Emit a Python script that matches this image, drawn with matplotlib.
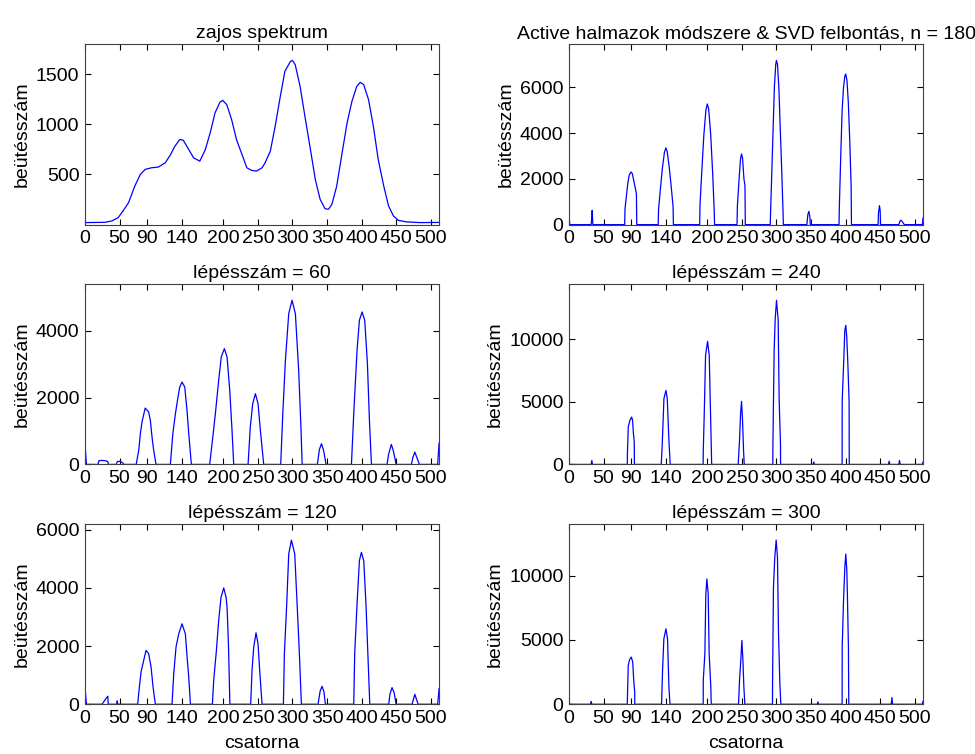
import matplotlib
matplotlib.use('Agg')

import matplotlib.pyplot as plt

plt.rcParams['font.family'] = ['Liberation Sans', 'DejaVu Sans']
plt.rcParams['font.size'] = 14

# csatorna (x) és beütésszám (y) töréspontok az egyes spektrumokhoz
x_zajos = [0, 29, 39, 48, 55, 63, 72, 80, 87, 96, 106, 116, 123, 130, 137, 142,
           150, 157, 166, 174, 181, 188, 195, 199, 205, 212, 219, 227, 234, 241,
           248, 256, 260, 268, 275, 282, 289, 297, 300, 304, 311, 318, 326, 333,
           340, 347, 352, 357, 364, 371, 379, 386, 393, 398, 403, 410, 417, 424,
           432, 439, 446, 453, 465, 485, 512]
y_zajos = [20, 23, 37, 70, 136, 219, 384, 500, 550, 566, 573, 616, 689, 781, 848, 841,
           748, 665, 632, 748, 914, 1112, 1218, 1238, 1195, 1046, 848, 699, 566, 540,
           533, 566, 610, 732, 980, 1261, 1526, 1625, 1635, 1592, 1377, 1079, 748, 450,
           252, 159, 152, 202, 384, 682, 1013, 1228, 1377, 1417, 1394, 1245, 980, 649,
           384, 186, 86, 43, 27, 20, 22]

x_n180 = [0, 1, 32, 33, 33.5, 34.5,
          80.5, 81, 83, 85, 87, 89.5, 91.5, 93.5, 95.5, 97.5, 98,
          129, 129.5, 132, 135, 138, 140, 142, 145, 148, 150.5, 151,
          189, 189.5, 192, 195, 198, 200, 202, 205, 208, 210, 210.5,
          243, 243.5, 246, 248, 249.5, 251, 253, 254.5, 255,
          291, 291.5, 293, 295, 297, 299, 300, 301.5, 303.5, 305.5, 307.5, 309.5, 310,
          344, 345.5, 347, 348.5, 349,
          390.5, 391, 393, 395, 397, 399, 400.3, 402, 404, 406, 408, 408.5,
          447, 447.5, 449, 450, 450.5,
          477, 478.5, 480, 482, 484, 485,
          511, 512]
y_n180 = [440, 0, 0, 300, 620, 0,
          0, 680, 1250, 1800, 2150, 2300, 2230, 1950, 1650, 1350, 0,
          0, 650, 1500, 2450, 3150, 3350, 3200, 2500, 1600, 800, 0,
          0, 900, 2300, 3900, 5000, 5270, 5050, 3900, 2100, 600, 0,
          0, 800, 2000, 2850, 3085, 2900, 2000, 1700, 0,
          0, 500, 2000, 4000, 6000, 7000, 7170, 7000, 6000, 4200, 2500, 600, 0,
          0, 450, 580, 300, 0,
          0, 800, 3000, 5000, 6000, 6500, 6575, 6300, 5300, 3700, 1700, 0,
          0, 500, 830, 600, 0,
          0, 150, 190, 130, 40, 0,
          0, 290]

x_lep60 = [0, 2, 18.8, 20, 24, 30, 33, 34, 45, 47, 51, 55, 56,
           74, 77.7, 80, 82.4, 87, 92, 94.5, 96.9, 99.3, 102.7,
           123.4, 127, 130.7, 134.5, 137, 140.3, 144.2, 147.5, 150, 153.8,
           180.3, 183.7, 188.5, 193.3, 197, 201.5, 205.4, 209.3, 212.6, 215,
           235.8, 239, 242.5, 246.4, 250.2, 253.6, 258.4,
           283, 286, 289.8, 294.6, 299.4, 304.2, 309, 312.4, 314,
           336, 339, 341.9, 345, 348.6,
           385.3, 388.6, 393.4, 396.8, 400.7, 404.5, 408.4, 411.3, 414.2,
           436.8, 439, 443, 446, 449.9,
           472, 474, 476.9, 480, 483.6,
           510, 512]
y_lep60 = [620, 0, 0, 110, 120, 110, 80, 0, 0, 90, 90, 40, 0,
           0, 420, 920, 1270, 1690, 1570, 1320, 820, 420, 0,
           0, 920, 1520, 2020, 2320, 2470, 2320, 1620, 920, 0,
           0, 620, 1520, 2520, 3220, 3470, 3220, 2220, 1020, 0,
           0, 1120, 1820, 2120, 1820, 1020, 0,
           0, 1520, 3120, 4520, 4920, 4520, 2820, 1020, 0,
           0, 450, 620, 420, 0,
           0, 1520, 3420, 4320, 4570, 4320, 3020, 1320, 0,
           0, 300, 600, 400, 0,
           0, 200, 370, 200, 0,
           0, 640]

x_lep240 = [0, 1, 32, 33, 34,
            84.3, 84.5, 85.7, 88, 90.6, 92, 93, 94.4, 94.6,
            133.4, 134.8, 137.3, 140.2, 142.1, 144.5, 146.4,
            194, 194.2, 195.6, 197.5, 200.4, 202.8, 204.7, 206.2, 206.3,
            244.7, 246.6, 248.1, 249.5, 251, 252.4, 253.4,
            294.8, 294.9, 296.7, 298.2, 300.1, 302.5, 303.9, 305.9, 306,
            353, 354, 355,
            395, 395.1, 397, 398.9, 400.3, 401.7, 403.2, 405.1, 405.3,
            462, 463, 464, 477, 478, 479,
            511, 512]
y_lep240 = [190, 0, 0, 320, 0,
            0, 850, 2980, 3500, 3780, 3500, 2580, 1780, 0,
            0, 1520, 5240, 5900, 5240, 1920, 0,
            0, 1120, 4040, 8700, 9815, 8700, 4040, 300, 0,
            0, 1900, 4000, 5030, 3500, 1170, 0,
            0, 1650, 9100, 11620, 13090, 11500, 5240, 1520, 0,
            0, 190, 0,
            0, 5100, 7770, 10700, 11090, 10160, 8170, 4970, 0,
            0, 260, 0, 0, 320, 0,
            0, 190]

x_lep120 = [0, 2, 24.6, 27, 30.4, 33, 33.5, 46, 46.5, 47.5,
            76.2, 77.6, 81, 84.9, 88.2, 92, 95.5, 98.4, 101.7,
            125.8, 128.3, 131.6, 135.5, 140.3, 145.1, 148, 150, 152.4,
            184.2, 186.1, 190, 193.3, 196.7, 200.6, 204, 205.5, 207.5, 209.5,
            239.6, 241.5, 244, 247.3, 250.2, 252.6, 256,
            286.9, 288.3, 291.7, 294.6, 298.5, 303.3, 306.7, 310, 312.9,
            337, 340, 342.8, 345.5, 347.6,
            388.6, 390, 393.4, 396.8, 399.7, 403.1, 406.5, 409.4, 411.8,
            439.2, 441, 444, 447, 449.9,
            473, 476.9, 481.7,
            510, 512]
y_lep120 = [594, 0, 0, 80, 200, 275, 0, 0, 115, 0,
            0, 366, 1110, 1510, 1850, 1740, 1280, 594, 0,
            0, 1050, 1966, 2420, 2766, 2420, 1510, 937, 0,
            0, 823, 1850, 2880, 3680, 4000, 3680, 3300, 2000, 0,
            0, 1166, 1966, 2457, 2080, 1166, 0,
            0, 1737, 3450, 5166, 5646, 5166, 3450, 1737, 0,
            0, 450, 617, 430, 0,
            0, 1737, 3450, 4937, 5223, 4937, 3337, 1508, 0,
            0, 350, 571, 400, 0,
            0, 343, 0,
            0, 537]

x_lep300 = [0, 1, 31, 32, 33,
            84.3, 84.4, 85.7, 87.6, 90, 92.2, 93.6, 95, 95.1,
            133.9, 135.3, 137.2, 140.2, 142.5, 144.5, 146,
            194.1, 194.2, 196.5, 197.9, 199.4, 201.3, 202.7, 205.1, 205.7,
            245.2, 246.6, 248.5, 250, 251.5, 252.9, 254.3,
            294.3, 294.4, 295.7, 297.6, 299.6, 301.5, 303, 304.9, 306.4,
            359, 360, 361,
            395, 395.1, 397, 398.9, 400.3, 401.8, 402.8, 404.1, 404.6,
            466, 467, 468,
            511, 512]
y_lep300 = [230, 0, 0, 230, 0,
            0, 300, 3020, 3460, 3670, 3280, 1860, 1000, 0,
            0, 2635, 5090, 5865, 5090, 1340, 0,
            0, 1860, 3930, 8580, 9740, 8580, 3930, 1340, 0,
            0, 1860, 3460, 4960, 3460, 1340, 0,
            0, 1730, 9100, 11420, 12765, 11420, 5480, 1650, 0,
            0, 180, 0,
            0, 4440, 8060, 10650, 11680, 10390, 8060, 4440, 0,
            0, 520, 0,
            0, 230]

x_tickek = [0, 50, 90, 140, 200, 250, 300, 350, 400, 450, 500]

panelek = [
    (x_zajos, y_zajos, 'zajos spektrum', [500, 1000, 1500]),
    (x_n180, y_n180, 'Active halmazok módszere & SVD felbontás, n = 180', [0, 2000, 4000, 6000]),
    (x_lep60, y_lep60, 'lépésszám = 60', [0, 2000, 4000]),
    (x_lep240, y_lep240, 'lépésszám = 240', [0, 5000, 10000]),
    (x_lep120, y_lep120, 'lépésszám = 120', [0, 2000, 4000, 6000]),
    (x_lep300, y_lep300, 'lépésszám = 300', [0, 5000, 10000]),
]

fig, axes = plt.subplots(3, 2, figsize=(9.75, 7.54), dpi=100)
fig.subplots_adjust(left=0.0872, right=0.9467, bottom=0.066, top=0.9416,
                    hspace=0.328, wspace=0.367)

for i, (ax, (x, y, cim, yt)) in enumerate(zip(axes.flat, panelek)):
    ax.plot(x, y, color='#0000ff', linewidth=0.9)
    ax.set_xlim(0, 512)
    ax.set_ylim(0, 1.1 * max(y))
    ax.set_xticks(x_tickek)
    ax.set_yticks(yt)
    ax.set_title(cim, fontsize=14, pad=4)
    ax.set_ylabel('beütésszám')
    if i >= 4:
        ax.set_xlabel('csatorna', labelpad=6)
    ax.tick_params(direction='in', top=True, right=True, length=4, width=0.8, pad=4)
    for s in ax.spines.values():
        s.set_color('#404040')
        s.set_linewidth(0.8)

fig.savefig('out.png', dpi=100)
